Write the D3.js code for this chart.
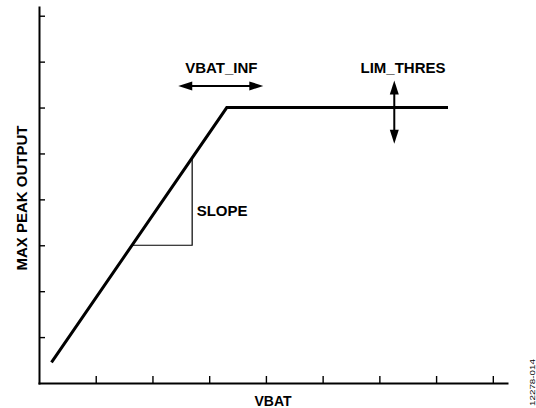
<!DOCTYPE html>
<html>
<head>
<meta charset="utf-8">
<script src="https://cdn.jsdelivr.net/npm/d3@7/dist/d3.min.js"></script>
<style>
  html, body { margin: 0; padding: 0; background: #fff; }
  svg { display: block; }
  text { font-family: "Liberation Sans", Arial, Helvetica, sans-serif; font-weight: bold; fill: #000; }
  text.fig-id { font-weight: normal; }
</style>
</head>
<body>
<svg id="chart" width="536" height="408"></svg>
<script>
// Limiter transfer curve: max peak output vs. battery voltage (arbitrary units)
const xTicks = [1, 2, 3, 4, 5, 6, 7, 8];
const yTicks = [1, 2, 3, 4, 5, 6, 7, 8];
const curveX = [0.22, 3.31, 7.21];
const curveY = [0.45, 6.0, 6.0];

// slope triangle: horizontal leg at y = 3, vertical leg at x = 2.70
const slopeRunX = [1.653, 2.70];
const slopeRiseY = [3.0, 4.92];

// adjustment arrows
const vbatInfArrowX = [2.455, 3.954];
const vbatInfArrowY = 6.47;
const limThresArrowX = 6.263;
const limThresArrowY = [6.59, 5.21];

const axisLabels = ["VBAT", "MAX PEAK OUTPUT"];
const annotations = ["VBAT_INF", "LIM_THRES", "SLOPE"];
const figureId = "12278-014";

const svg = d3.select("#chart");

const x = d3.scaleLinear().domain([0, 8.25]).range([39, 507]);
const y = d3.scaleLinear().domain([0, 8.19]).range([383, 7]);

// axes: ticks point inward, no tick labels
const xAxis = d3.axisBottom(x).tickValues(xTicks).tickSizeInner(-7).tickSizeOuter(0).tickFormat("");
const yAxis = d3.axisLeft(y).tickValues(yTicks).tickSizeInner(-6).tickSizeOuter(0).tickFormat("");

const gx = svg.append("g").attr("transform", `translate(0,${y(0)})`).call(xAxis);
const gy = svg.append("g").attr("transform", `translate(${x(0)},0)`).call(yAxis);
[gx, gy].forEach(g => {
  g.select(".domain").attr("stroke", "#000").attr("stroke-width", 2).attr("stroke-linecap", "square");
  g.selectAll(".tick line").attr("stroke", "#000").attr("stroke-width", 1.4);
});

// slope triangle
const tri = [
  [slopeRunX[0], slopeRiseY[0]],
  [slopeRunX[1], slopeRiseY[0]],
  [slopeRunX[1], slopeRiseY[1]]
];
svg.append("path")
  .attr("d", d3.line().x(d => x(d[0])).y(d => y(d[1]))(tri))
  .attr("fill", "none").attr("stroke", "#000").attr("stroke-width", 1.2);

// transfer curve
const pts = curveX.map((v, i) => [v, curveY[i]]);
svg.append("path")
  .attr("d", d3.line().x(d => x(d[0])).y(d => y(d[1]))(pts))
  .attr("fill", "none").attr("stroke", "#000").attr("stroke-width", 3)
  .attr("stroke-linejoin", "miter").attr("stroke-linecap", "butt");

// double-headed arrow helper
function doubleArrow(x1, y1, x2, y2) {
  const len = 14, half = 4.5;
  const dx = x2 - x1, dy = y2 - y1;
  const L = Math.hypot(dx, dy);
  const ux = dx / L, uy = dy / L;
  const nx = -uy, ny = ux;
  svg.append("line")
    .attr("x1", x1 + ux * (len - 2)).attr("y1", y1 + uy * (len - 2))
    .attr("x2", x2 - ux * (len - 2)).attr("y2", y2 - uy * (len - 2))
    .attr("stroke", "#000").attr("stroke-width", 2);
  const head = (px, py, sx, sy) => [
    [px, py],
    [px + sx * len + nx * half, py + sy * len + ny * half],
    [px + sx * len - nx * half, py + sy * len - ny * half]
  ];
  [head(x1, y1, ux, uy), head(x2, y2, -ux, -uy)].forEach(h => {
    svg.append("path").attr("d", "M" + h.map(p => p.join(",")).join("L") + "Z").attr("fill", "#000");
  });
}
doubleArrow(x(vbatInfArrowX[0]), y(vbatInfArrowY), x(vbatInfArrowX[1]), y(vbatInfArrowY));
doubleArrow(x(limThresArrowX), y(limThresArrowY[0]), x(limThresArrowX), y(limThresArrowY[1]));

// annotation labels
svg.append("text").attr("x", (x(vbatInfArrowX[0]) + x(vbatInfArrowX[1])) / 2 + 0.5).attr("y", 72.5)
  .attr("text-anchor", "middle").attr("font-size", 15).text(annotations[0]);
svg.append("text").attr("x", 403).attr("y", 72.5)
  .attr("text-anchor", "middle").attr("font-size", 15).text(annotations[1]);
svg.append("text").attr("x", x(slopeRunX[1]) + 4.5).attr("y", 215.5)
  .attr("font-size", 15).text(annotations[2]);

// axis titles
svg.append("text").attr("x", 273).attr("y", 406)
  .attr("text-anchor", "middle").attr("font-size", 14).text(axisLabels[0]);
svg.append("text").attr("transform", "translate(26.5,198) rotate(-90)")
  .attr("text-anchor", "middle").attr("font-size", 15).text(axisLabels[1]);

// figure number
svg.append("text").attr("class", "fig-id").attr("transform", "translate(534.5,406) rotate(-90)")
  .attr("font-size", 7.5)
  .attr("textLength", 47).attr("lengthAdjust", "spacingAndGlyphs")
  .text(figureId);
</script>
</body>
</html>
